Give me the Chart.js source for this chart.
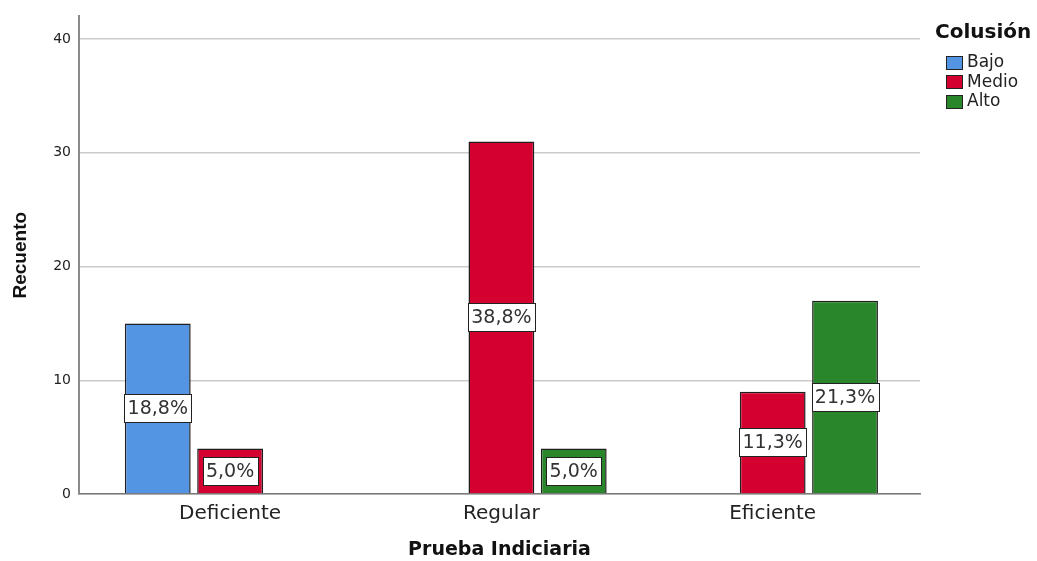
<!DOCTYPE html>
<html>
<head>
<meta charset="utf-8">
<script src="https://cdn.jsdelivr.net/npm/chart.js@4.4.1/dist/chart.umd.min.js"></script>
<style>
  html, body { margin: 0; padding: 0; background: #fff; }
  #wrap { width: 1037px; height: 561px; }
</style>
</head>
<body>
<div id="wrap"><canvas id="chart"></canvas></div>
<script>
// ===== DATA =====
const categories = ["Deficiente", "Regular", "Eficiente"];
const seriesNames = ["Bajo", "Medio", "Alto"];
const bajo  = [15, null, null];
const medio = [4, 31, 9];
const alto  = [null, 4, 17];
const pctBajo  = ["18,8%", null, null];
const pctMedio = ["5,0%", "38,8%", "11,3%"];
const pctAlto  = [null, "5,0%", "21,3%"];
const yTicks = [0, 10, 20, 30, 40];
const yMax = 42;

const legendTitle = "Colusión";
const xTitle = "Prueba Indiciaria";
const yTitle = "Recuento";

const colors = ["#5394E3", "#D30030", "#2A862B"];
const FONT = "'DejaVu Sans', Arial, sans-serif";
const FONT_NARROW = "'Liberation Sans', Arial, sans-serif";

// ===== PLUGINS =====
// white boxed percentage labels in the middle of each bar
const pctLabels = {
  id: "pctLabels",
  afterDatasetsDraw(chart) {
    const ctx = chart.ctx;
    ctx.save();
    ctx.font = `19px ${FONT}`;
    ctx.textAlign = "center";
    ctx.textBaseline = "middle";
    chart.data.datasets.forEach((ds, di) => {
      const meta = chart.getDatasetMeta(di);
      meta.data.forEach((bar, i) => {
        const txt = ds.pct[i];
        if (!txt || ds.data[i] == null) return;
        const h = 28;
        const w = Math.round(ctx.measureText(txt).width + 7);
        const cy = Math.min((bar.y + bar.base) / 2, bar.base - h / 2 - 4);
        const x = Math.round(bar.x - w / 2) + 0.5, y = Math.round(cy - h / 2) + 0.5;
        ctx.fillStyle = "#fff";
        ctx.fillRect(x, y, w, h);
        ctx.strokeStyle = "#222";
        ctx.lineWidth = 1;
        ctx.strokeRect(x, y, w, h);
        ctx.fillStyle = "#333";
        ctx.fillText(txt, bar.x, cy + 1);
      });
    });
    ctx.restore();
  }
};

// legend on the right, SPSS style
const sideLegend = {
  id: "sideLegend",
  afterDraw(chart) {
    const ctx = chart.ctx;
    const x0 = chart.chartArea.right;
    ctx.save();
    ctx.textAlign = "left";
    ctx.textBaseline = "middle";
    ctx.font = `bold 20px ${FONT}`;
    ctx.fillStyle = "#111";
    ctx.fillText(legendTitle, x0 + 15, 33);
    ctx.font = `17px ${FONT}`;
    chart.data.datasets.forEach((ds, i) => {
      const y = 62 + i * 19.5;
      const by = Math.round(y - 6.5) + 0.5;
      ctx.fillStyle = ds.backgroundColor;
      ctx.fillRect(x0 + 26.5, by, 16, 13);
      ctx.strokeStyle = "#222";
      ctx.lineWidth = 1;
      ctx.strokeRect(x0 + 26.5, by, 16, 13);
      ctx.fillStyle = "#222";
      ctx.fillText(ds.label, x0 + 47, y + 1);
    });
    ctx.restore();
  }
};

// ===== CHART =====
const seriesData = [bajo, medio, alto];
const seriesPct = [pctBajo, pctMedio, pctAlto];

new Chart(document.getElementById("chart"), {
  type: "bar",
  data: {
    labels: categories,
    datasets: seriesNames.map((name, i) => ({
      label: name,
      data: seriesData[i],
      pct: seriesPct[i],
      backgroundColor: colors[i],
      borderColor: "#1f1f1f",
      borderWidth: 1.5,
      categoryPercentage: 0.8,
      barPercentage: 0.91
    }))
  },
  options: {
    responsive: true,
    maintainAspectRatio: false,
    animation: false,
    layout: { padding: { top: 15, right: 117, left: 0, bottom: 0 } },
    plugins: { legend: { display: false }, tooltip: { enabled: false } },
    scales: {
      x: {
        offset: true,
        grid: { display: false, drawTicks: false },
        border: { display: true, color: "#7a7a7a", width: 1.5 },
        ticks: { font: { family: FONT, size: 20 }, color: "#222", padding: 8 },
        title: { display: true, text: xTitle, color: "#111", font: { family: FONT, size: 19, weight: "bold" }, padding: { top: 0, bottom: 0 } },
        // SPSS leaves a little extra room at both ends of the category axis
        afterBuildTicks: s => { s._startValue = -0.557; s._valueRange = 3.1; },
        afterFit: s => { s.height = 67; }
      },
      y: {
        min: 0,
        max: yMax,
        afterBuildTicks: s => { s.ticks = yTicks.map(v => ({ value: v })); },
        grid: { color: "#cccccc", lineWidth: 1.5, drawTicks: false },
        border: { color: "#8a8a8a", width: 2 },
        ticks: { font: { family: FONT, size: 14 }, color: "#222", padding: 8 },
        title: { display: true, text: yTitle, color: "#111", font: { family: FONT_NARROW, size: 19, weight: "bold" }, padding: { top: 9, bottom: 0 } },
        afterFit: s => { s.width = 79; }
      }
    }
  },
  plugins: [pctLabels, sideLegend]
});
</script>
</body>
</html>
